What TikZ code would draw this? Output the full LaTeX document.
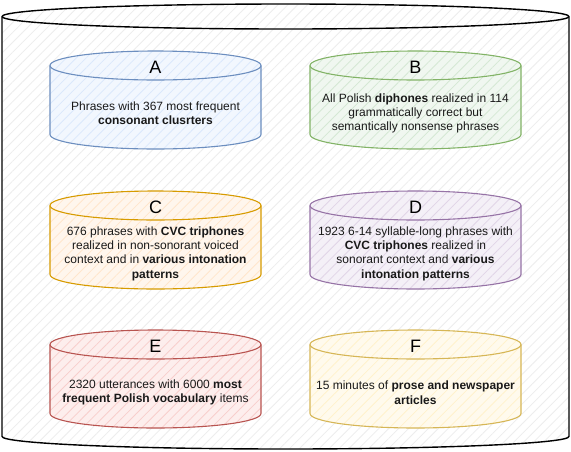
\documentclass[tikz,border=0pt]{standalone}
\usepackage{fontspec}
\setmainfont{Liberation Sans}
\usetikzlibrary{patterns.meta}
\definecolor{afill}{HTML}{DAE8FC}\definecolor{aline}{HTML}{6C8EBF}
\definecolor{bfill}{HTML}{D5E8D4}\definecolor{bline}{HTML}{82B366}
\definecolor{cfill}{HTML}{FFE6CC}\definecolor{cline}{HTML}{D79B00}
\definecolor{dfill}{HTML}{E1D5E7}\definecolor{dline}{HTML}{9673A6}
\definecolor{efill}{HTML}{F8CECC}\definecolor{eline}{HTML}{B85450}
\definecolor{ffill}{HTML}{FFF2CC}\definecolor{fline}{HTML}{D6B656}
\definecolor{bigfill}{HTML}{EDEDED}
% #1 cx, #2 top, #3 rx, #4 ry, #5 height, #6 colour prefix, #7 line width, #8 base tint
\newcommand\dbcyl[8]{%
  \path[preaction={fill=#6fill!#8!white},
        pattern={Lines[angle=45,distance=7pt,line width=0.8pt]},pattern color=#6fill]
    ({#1-#3},{#2+#4}) -- ({#1-#3},{#2+#5-#4})
    arc[start angle=180,end angle=0,x radius=#3,y radius=#4]
    -- ({#1+#3},{#2+#4})
    arc[start angle=0,end angle=-180,x radius=#3,y radius=#4] -- cycle;
  \draw[#6line,line width=#7,line join=round]
    ({#1-#3},{#2+#4}) -- ({#1-#3},{#2+#5-#4})
    arc[start angle=180,end angle=0,x radius=#3,y radius=#4]
    -- ({#1+#3},{#2+#4})
    arc[start angle=0,end angle=-180,x radius=#3,y radius=#4] -- cycle;
  \draw[#6line,line width=#7]
    ({#1-#3},{#2+#4}) arc[start angle=180,end angle=0,x radius=#3,y radius=#4];
}
\colorlet{bigline}{black}
\tikzset{
  letter/.style={font=\fontsize{18}{20}\selectfont, inner sep=0pt},
  body/.style={font=\fontsize{12}{14.3}\selectfont, align=center, inner sep=0pt, text=black!90}
}
\begin{document}
\begin{tikzpicture}[x=1pt,y=-1pt]
\useasboundingbox (0,0) rectangle (571,451);
\fill[white] (0,0) rectangle (571,451);
\dbcyl{285.5}{4}{283.5}{12.5}{445}{big}{1.4pt}{0}
\dbcyl{155.5}{51}{105.5}{14.5}{98}{a}{1.1pt}{35}
\dbcyl{415.5}{51}{105.5}{14.5}{98}{b}{1.1pt}{35}
\dbcyl{155.5}{191}{105.5}{14.5}{98}{c}{1.1pt}{35}
\dbcyl{415.5}{191}{105.5}{14.5}{98}{d}{1.1pt}{35}
\dbcyl{155.5}{330}{105.5}{14.5}{98}{e}{1.1pt}{35}
\dbcyl{415.5}{330}{105.5}{14.5}{98}{f}{1.1pt}{35}

\node[letter] (la) at (155.5,67) {A};
\node[letter] (lb) at (415.5,67) {B};
\node[letter] (lc) at (155.5,207) {C};
\node[letter] (ld) at (415.5,207) {D};
\node[letter] (le) at (155.5,346) {E};
\node[letter] (lf) at (415.5,346) {F};

\node[body] (ta) at (155.5,113.5) {Phrases with 367 most frequent\\\textbf{consonant clusrters}};
\node[body] (tb) at (415.5,113.5) {All Polish \textbf{diphones} realized in 114\\grammatically correct but\\semantically nonsense phrases};
\node[body] (tc) at (155.5,253.7) {676 phrases with \textbf{CVC triphones}\\realized in non-sonorant voiced\\context and in \textbf{various intonation}\\\textbf{patterns}};
\node[body] (td) at (415.5,253.7) {1923 6-14 syllable-long phrases with\\\textbf{CVC triphones} realized in\\sonorant context and \textbf{various}\\\textbf{intonation patterns}};
\node[body] (te) at (155.5,392.7) {2320 utterances with 6000 \textbf{most}\\\textbf{frequent Polish vocabulary} items};
\node[body] (tf) at (415.5,392.7) {15 minutes of \textbf{prose and newspaper}\\\textbf{articles}};
\end{tikzpicture}
\end{document}
